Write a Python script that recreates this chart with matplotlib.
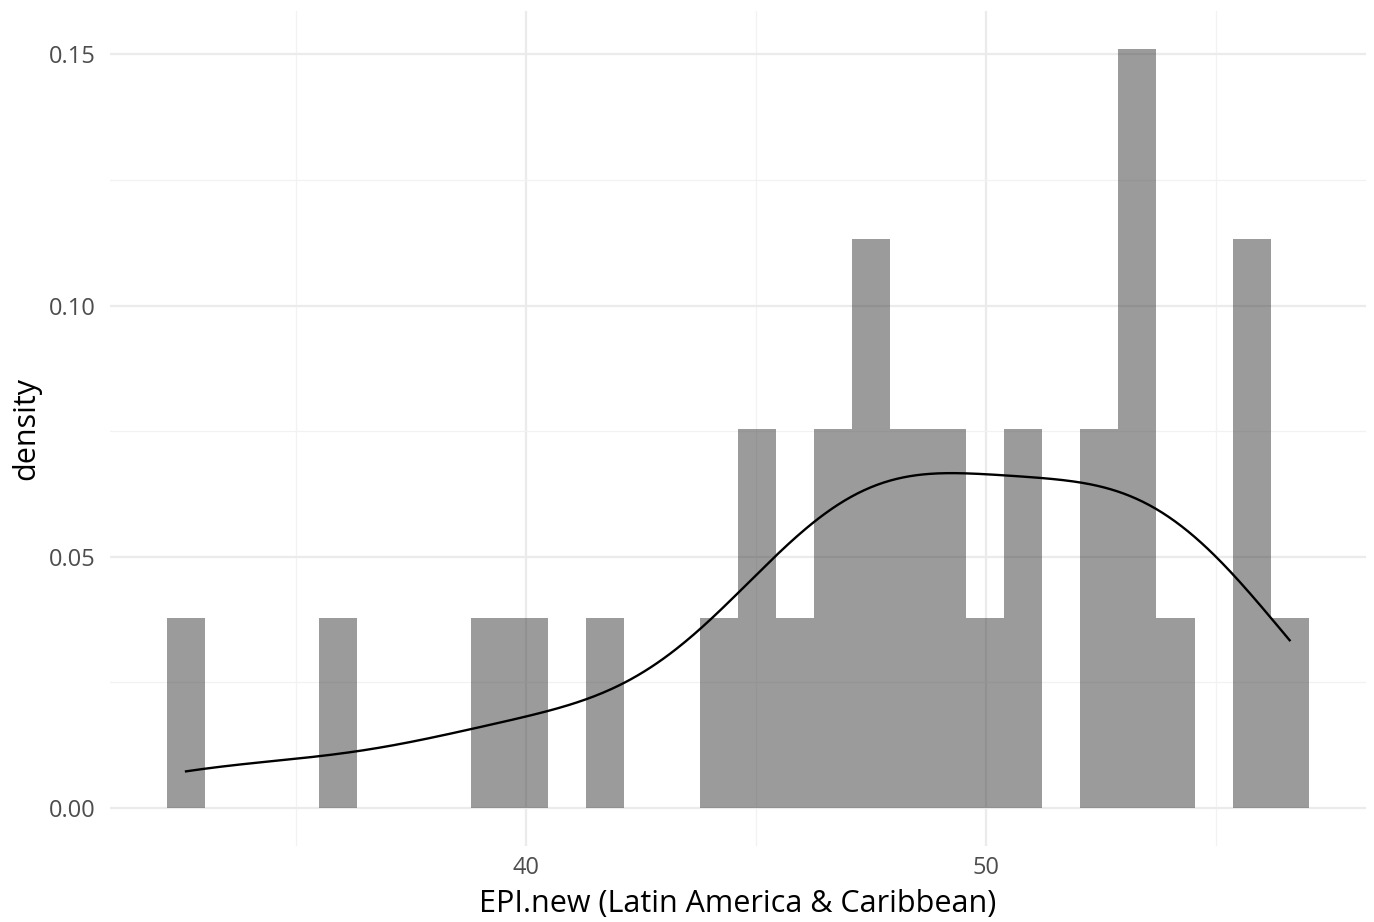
import numpy as np
import matplotlib
matplotlib.use('Agg')
import matplotlib.pyplot as plt

# EPI.new scores, Latin America & Caribbean (estimated from the histogram)
epi_new = [32.60, 35.91, 39.15, 40.10, 41.70, 44.20,
           45.00, 45.15, 45.90, 46.70, 46.85, 47.45, 47.60, 47.70,
           48.40, 48.55, 49.30, 49.40, 50.20, 50.95, 51.05,
           52.55, 52.65, 53.05, 53.15, 53.25, 53.30, 54.00,
           55.45, 55.55, 55.60, 56.60]

N_BINS = 30

x = np.asarray(epi_new)
n = len(x)
# ggplot-style bins: 30 bins, the outermost centred on min and max
width = (x.max() - x.min()) / (N_BINS - 1)
edges = x.min() - width / 2 + width * np.arange(N_BINS + 1)
counts, _ = np.histogram(x, bins=edges)
dens = counts / (n * width)

# gaussian kde, bw.nrd0
iqr = np.subtract(*np.percentile(x, [75, 25]))
bw = 0.9 * min(x.std(ddof=1), iqr / 1.34) * n ** -0.2
grid = np.linspace(x.min(), x.max(), 512)
kde = np.exp(-0.5 * ((grid[:, None] - x[None, :]) / bw) ** 2).sum(1) / (n * bw * np.sqrt(2 * np.pi))

plt.rcParams['font.family'] = ['Open Sans', 'DejaVu Sans']
fig = plt.figure(figsize=(13.74, 9.22), dpi=100)
ax = fig.add_axes([0.080, 0.0824, 0.914, 0.9056])

ax.bar(edges[:-1], dens, width=width, align='edge', color='#404040', alpha=0.52,
       linewidth=0, zorder=2)
ax.plot(grid, kde, color='black', lw=1.7, zorder=3)

xr = edges[-1] - edges[0]
ax.set_xlim(edges[0] - 0.05 * xr, edges[-1] + 0.05 * xr)
ymax = dens.max()
ax.set_ylim(-0.05 * ymax, 1.05 * ymax)

ax.set_xticks([40, 50])
ax.set_xticks([35, 45, 55], minor=True)
ax.set_yticks([0, 0.05, 0.10, 0.15])
ax.set_yticklabels(['0.00', '0.05', '0.10', '0.15'])
ax.set_yticks([0.025, 0.075, 0.125], minor=True)
ax.grid(which='major', color='#ebebeb', lw=1.6, zorder=0)
ax.grid(which='minor', color='#f2f2f2', lw=0.9, zorder=0)
ax.set_axisbelow(True)
ax.tick_params(which='both', length=0, labelsize=17, labelcolor='#4d4d4d')
ax.tick_params(axis='y', pad=10)
ax.tick_params(axis='x', pad=7)
for s in ax.spines.values():
    s.set_visible(False)

ax.set_xlabel('EPI.new (Latin America & Caribbean)', fontsize=22, labelpad=7)
ax.set_ylabel('density', fontsize=22, labelpad=6)

fig.savefig('out.png', dpi=100)
